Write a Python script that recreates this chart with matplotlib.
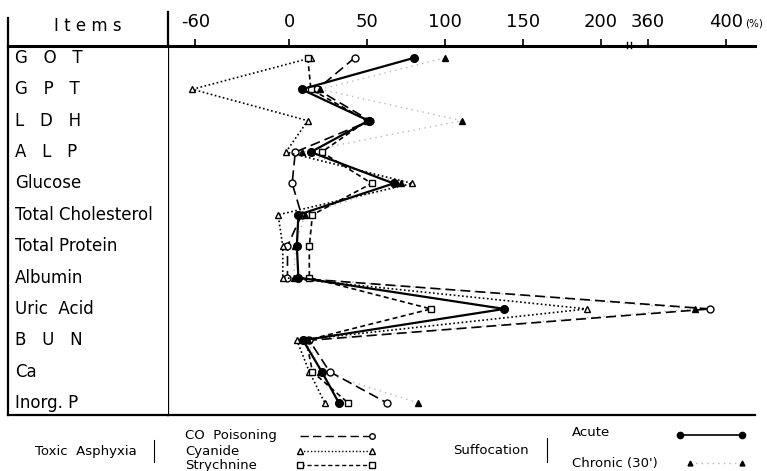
import matplotlib.pyplot as plt
import numpy as np
from matplotlib.lines import Line2D

# row labels, top to bottom
items = ['G   O   T', 'G   P   T', 'L   D   H', 'A   L   P', 'Glucose',
         'Total Cholesterol', 'Total Protein', 'Albumin', 'Uric  Acid',
         'B   U   N', 'Ca', 'Inorg. P']

# % change
acute = [80, 8, 51, 14, 67, 6, 5, 6, 138, 9, 21, 32]
chronic = [100, 20, 111, 8, 72, 10, 4, 3, 384, 12, 20, 83]
co = [42, 18, 52, 4, 2, 8, -1, -1, 392, 13, 26, 63]
cyanide = [14, -62, 12, -2, 79, -7, -4, -4, 191, 5, 13, 23]
strychnine = [12, 14, 50, 21, 53, 15, 13, 13, 91, 11, 15, 38]

xticks = [-60, 0, 50, 100, 150, 200, 360, 400]


# broken x axis: linear up to 215, squeezed gap, then 360-400 part
def fwd(v):
    v = np.asarray(v, dtype=float)
    return np.where(v <= 215, v,
                    np.where(v <= 352, 215 + (v - 215) * 5 / 137,
                             230 + (v - 360) * 1.25))


def inv(u):
    u = np.asarray(u, dtype=float)
    return np.where(u <= 215, u,
                    np.where(u <= 220, 215 + (u - 215) * 137 / 5,
                             360 + (u - 230) / 1.25))


W, H = 767, 471
fig = plt.figure(figsize=(W / 100, H / 100), dpi=100)

top = 1 - 46 / H
bot = 1 - 415 / H
ax = fig.add_axes([168 / W, bot, (755 - 168) / W, top - bot])
axl = fig.add_axes([8 / W, bot, (168 - 8) / W, top - bot])

y = np.arange(len(items))
ylim = (len(items) - 1 + 0.38, -0.38)

ax.set_xscale('function', functions=(fwd, inv))
ax.set_xlim(-77.6, 415)
ax.set_ylim(*ylim)

# series
ax.plot(chronic, y, color='#b8b8b8', lw=1, ls=(0, (1, 3)), zorder=2)
ax.plot(chronic, y, ls='none', marker='^', ms=4, color='black', zorder=5)
ax.plot(co, y, color='black', lw=1.2, ls=(0, (6, 3)), marker='o', ms=5,
        mfc='white', mec='black', zorder=3)
ax.plot(cyanide, y, color='black', lw=1.2, ls=(0, (1, 1.5)), marker='^', ms=5,
        mfc='white', mec='black', zorder=3)
ax.plot(strychnine, y, color='black', lw=1.2, ls=(0, (3, 2)), marker='s', ms=5,
        mfc='white', mec='black', zorder=3)
ax.plot(acute, y, color='black', lw=1.6, marker='o', ms=5.5, zorder=4)

# axis styling
ax.xaxis.tick_top()
ax.set_xticks(xticks)
ax.set_xticklabels([str(t) for t in xticks])
ax.tick_params(axis='x', direction='out', length=5, width=1.2, pad=6,
               labelsize=13, top=True, bottom=False)
ax.set_yticks([])
ax.xaxis.set_minor_locator(plt.NullLocator())
ax.spines['top'].set_linewidth(2.2)
ax.spines['bottom'].set_linewidth(1.6)
ax.spines['left'].set_linewidth(1.6)
ax.spines['right'].set_visible(False)
fig.text(745 / W, 1 - 24 / H, '(%)', fontsize=7.5, ha='left', va='center')

# break mark on the top axis
bx = (629 - 168) / (755 - 168)
for dx in (-0.004, 0.004):
    ax.plot([bx + dx, bx + dx], [0.995, 1.01], transform=ax.transAxes,
            color='black', lw=1, clip_on=False)

# left table column
axl.set_xlim(0, 1)
axl.set_ylim(*ylim)
axl.set_xticks([])
axl.set_yticks([])
axl.spines['right'].set_visible(False)
axl.spines['top'].set_linewidth(2.2)
axl.spines['bottom'].set_linewidth(1.6)
axl.spines['left'].set_linewidth(1.6)
for i, name in enumerate(items):
    axl.text(0.045, i, name, fontsize=12, ha='left', va='center')
axl.text(0.5, 1.055, 'I t e m s', transform=axl.transAxes, fontsize=12,
         ha='center', va='center')

# vertical lines extended above the header
fig.add_artist(Line2D([8 / W, 8 / W], [top, 1 - 18 / H], color='black', lw=1.6))
fig.add_artist(Line2D([168 / W, 168 / W], [top, 1 - 12 / H], color='black', lw=1.6))


# legend drawn below the table
def fx(px):
    return px / W


def fy(py):
    return 1 - py / H


fs = 9.5
fig.text(fx(35), fy(451), 'Toxic  Asphyxia', fontsize=fs, va='center')
fig.add_artist(Line2D([fx(154), fx(154)], [fy(440), fy(462)], color='black', lw=0.8))
fig.text(fx(185), fy(436), 'CO  Poisoning', fontsize=fs, va='center')
fig.text(fx(185), fy(451), 'Cyanide', fontsize=fs, va='center')
fig.text(fx(185), fy(465), 'Strychnine', fontsize=fs, va='center')

fig.add_artist(Line2D([fx(300), fx(372)], [fy(436)] * 2, color='black', lw=1,
                      ls=(0, (6, 3)), marker='o', ms=4, mfc='white',
                      markevery=[1]))
fig.add_artist(Line2D([fx(300), fx(372)], [fy(451)] * 2, color='black', lw=1,
                      ls=(0, (1, 1.5)), marker='^', ms=4, mfc='white'))
fig.add_artist(Line2D([fx(300), fx(372)], [fy(465)] * 2, color='black', lw=1,
                      ls=(0, (3, 2)), marker='s', ms=4, mfc='white'))

fig.text(fx(453), fy(451), 'Suffocation', fontsize=fs, va='center')
fig.add_artist(Line2D([fx(547), fx(547)], [fy(438), fy(462)], color='black', lw=0.8))
fig.text(fx(572), fy(433), 'Acute', fontsize=fs, va='center')
fig.text(fx(572), fy(463), "Chronic (30')", fontsize=fs, va='center')
fig.add_artist(Line2D([fx(680), fx(742)], [fy(435)] * 2, color='black', lw=1.2,
                      marker='o', ms=4.5))
fig.add_artist(Line2D([fx(690), fx(742)], [fy(463)] * 2, color='#b8b8b8', lw=1,
                      ls=(0, (1, 3))))
fig.add_artist(Line2D([fx(690), fx(742)], [fy(463)] * 2, ls='none',
                      color='black', marker='^', ms=3.5))

fig.savefig('out.png', dpi=100)
